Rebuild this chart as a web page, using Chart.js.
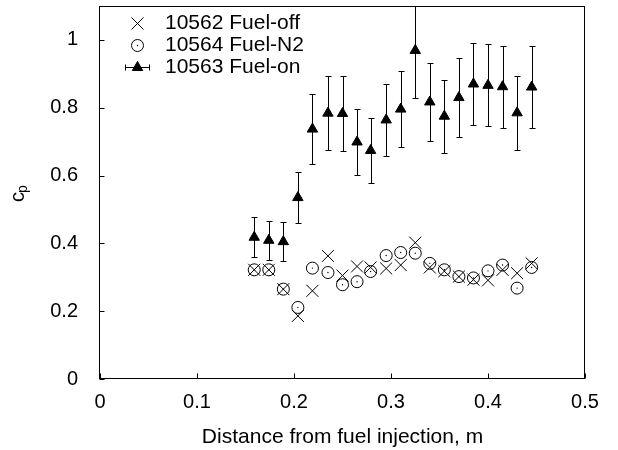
<!DOCTYPE html>
<html>
<head>
<meta charset="utf-8">
<script src="https://cdn.jsdelivr.net/npm/chart.js@4.4.1/dist/chart.umd.min.js"></script>
<style>
  html, body { margin: 0; padding: 0; background: #fff; }
</style>
</head>
<body>
<canvas id="cp" width="618" height="450"></canvas>
<script>
// measuring stations, distance from fuel injection (m)
const distance = [0.159, 0.174, 0.189, 0.204, 0.219, 0.235, 0.250, 0.265, 0.279, 0.295,
                  0.310, 0.325, 0.340, 0.355, 0.370, 0.385, 0.400, 0.415, 0.430, 0.445];

// pressure coefficient per run
const fuelOff = [0.322, 0.322, 0.265, 0.186, 0.260, 0.363, 0.305, 0.332, 0.329, 0.326,
                 0.336, 0.402, 0.329, 0.318, 0.302, 0.293, 0.291, 0.322, 0.312, 0.341];
const fuelN2  = [0.322, 0.322, 0.265, 0.211, 0.327, 0.314, 0.278, 0.287, 0.317, 0.364,
                 0.373, 0.371, 0.341, 0.322, 0.302, 0.298, 0.319, 0.336, 0.268, 0.329];
const fuelOn  = [0.418, 0.409, 0.405, 0.535, 0.737, 0.784, 0.783, 0.699, 0.674, 0.764,
                 0.796, 0.969, 0.817, 0.775, 0.830, 0.870, 0.866, 0.862, 0.785, 0.861];
const fuelOnErr = [0.059, 0.058, 0.057, 0.074, 0.103, 0.110, 0.110, 0.098, 0.095, 0.107,
                   0.111, 0.139, 0.114, 0.108, 0.117, 0.122, 0.121, 0.121, 0.110, 0.120];

const xTicks = [0, 0.1, 0.2, 0.3, 0.4, 0.5];
const yTicks = [0, 0.2, 0.4, 0.6, 0.8, 1];
const runNames = ['10562 Fuel-off', '10564 Fuel-N2', '10563 Fuel-on'];

const FONT = "'Liberation Sans', Arial, Helvetica, sans-serif";

const pts = ys => distance.map((d, i) => ({ x: d, y: ys[i] }));

const markers = [
  { pointStyle: 'crossRot', radius: 8.5, borderWidth: 1 },
  { pointStyle: 'circle', radius: 6, borderWidth: 1 },
  { pointStyle: 'triangle', radius: 6, borderWidth: 1 }
];

const errorBars = {
  id: 'errorBars',
  beforeDatasetsDraw(chart) {
    const { ctx, chartArea: a, scales: { x, y } } = chart;
    ctx.save();
    ctx.beginPath();
    ctx.rect(a.left, a.top, a.right - a.left, a.bottom - a.top);
    ctx.clip();
    ctx.strokeStyle = '#000';
    ctx.lineWidth = 1;
    ctx.beginPath();
    distance.forEach((d, i) => {
      const px = Math.round(x.getPixelForValue(d)) + 0.5;
      const hi = Math.round(y.getPixelForValue(fuelOn[i] + fuelOnErr[i])) + 0.5;
      const lo = Math.round(y.getPixelForValue(fuelOn[i] - fuelOnErr[i])) + 0.5;
      ctx.moveTo(px, hi); ctx.lineTo(px, lo);
      ctx.moveTo(px - 3, hi); ctx.lineTo(px + 3, hi);
      ctx.moveTo(px - 3, lo); ctx.lineTo(px + 3, lo);
    });
    ctx.stroke();
    ctx.restore();
  },
  afterDatasetsDraw(chart) {
    // centre dots of the N2 circles
    const ctx = chart.ctx;
    ctx.save();
    ctx.fillStyle = '#000';
    chart.getDatasetMeta(1).data.forEach(p => {
      ctx.beginPath();
      ctx.arc(p.x, p.y, 0.7, 0, Math.PI * 2);
      ctx.fill();
    });
    ctx.restore();
  }
};

const frame = {
  id: 'frame',
  afterDraw(chart) {
    const { ctx, chartArea: a, scales: { x, y } } = chart;
    ctx.save();
    ctx.strokeStyle = '#000';
    ctx.lineWidth = 1;
    const L = Math.round(a.left) - 0.5, R = Math.round(a.right) - 0.5;
    const T = Math.round(a.top) + 0.5, B = Math.round(a.bottom) - 0.5;
    ctx.strokeRect(L, T, R - L, B - T);

    // inward tick marks, bottom and left only
    ctx.beginPath();
    xTicks.forEach(v => {
      const px = Math.round(x.getPixelForValue(v)) + 0.5;
      ctx.moveTo(px, B); ctx.lineTo(px, B - 5);
    });
    yTicks.forEach(v => {
      const py = Math.round(y.getPixelForValue(v)) + 0.5;
      ctx.moveTo(L, py); ctx.lineTo(L + 5, py);
    });
    ctx.stroke();

    // y title: c with subscript p
    ctx.fillStyle = '#000';
    ctx.translate(23.5, 202);
    ctx.rotate(-Math.PI / 2);
    ctx.textBaseline = 'alphabetic';
    ctx.textAlign = 'left';
    ctx.font = '20px ' + FONT;
    ctx.fillText('c', 0, 0);
    const cw = ctx.measureText('c').width;
    ctx.font = '14px ' + FONT;
    ctx.fillText('p', cw - 1, 3.5);
    ctx.restore();

    // key, top left inside the frame
    ctx.save();
    ctx.strokeStyle = '#000';
    ctx.lineWidth = 1;
    const keyX = 137.5, textX = 165;
    runNames.forEach((name, i) => {
      const ky = 23.5 + i * 22;
      if (i === 2) {
        ctx.beginPath();
        ctx.moveTo(125, ky); ctx.lineTo(150, ky);
        ctx.moveTo(125.5, ky - 3); ctx.lineTo(125.5, ky + 3);
        ctx.moveTo(149.5, ky - 3); ctx.lineTo(149.5, ky + 3);
        ctx.stroke();
      }
      ctx.fillStyle = i === 1 ? 'rgba(0,0,0,0)' : '#000';
      Chart.helpers.drawPoint(ctx, markers[i], keyX, ky);
      ctx.fillStyle = '#000';
      if (i === 1) {
        ctx.beginPath();
        ctx.arc(keyX, ky, 0.7, 0, Math.PI * 2);
        ctx.fill();
      }
      ctx.font = '21px ' + FONT;
      ctx.textBaseline = 'middle';
      ctx.textAlign = 'left';
      ctx.fillText(name, textX, ky);
    });
    ctx.restore();
  }
};

new Chart(document.getElementById('cp'), {
  type: 'scatter',
  data: {
    datasets: [
      {
        label: runNames[0],
        data: pts(fuelOff),
        pointStyle: 'crossRot',
        pointRadius: 8.5,
        borderColor: '#000',
        borderWidth: 1
      },
      {
        label: runNames[1],
        data: pts(fuelN2),
        pointStyle: 'circle',
        pointRadius: 6,
        backgroundColor: 'rgba(0,0,0,0)',
        borderColor: '#000',
        borderWidth: 1
      },
      {
        label: runNames[2],
        data: pts(fuelOn),
        pointStyle: 'triangle',
        pointRadius: 6,
        backgroundColor: '#000',
        borderColor: '#000',
        borderWidth: 1
      }
    ]
  },
  options: {
    responsive: false,
    animation: false,
    events: [],
    layout: { autoPadding: false, padding: { left: 0, right: 33, top: 6, bottom: 0 } },
    plugins: {
      legend: { display: false },
      tooltip: { enabled: false }
    },
    scales: {
      x: {
        type: 'linear',
        min: 0,
        max: 0.5,
        afterBuildTicks: s => { s.ticks = xTicks.map(v => ({ value: v })); },
        afterFit: s => { s.height = 71; s.paddingLeft = 0; s.paddingRight = 0; },
        grid: { display: false },
        border: { display: false },
        ticks: {
          color: '#000',
          font: { family: FONT, size: 20 },
          padding: 3,
          maxRotation: 0,
          autoSkip: false,
          callback: v => String(v)
        },
        title: {
          display: true,
          text: 'Distance from fuel injection, m',
          color: '#000',
          font: { family: FONT, size: 21 },
          padding: 0
        }
      },
      y: {
        type: 'linear',
        min: 0,
        max: 1.1,
        afterBuildTicks: s => { s.ticks = yTicks.map(v => ({ value: v })); },
        afterFit: s => { s.width = 100; s.paddingTop = 0; s.paddingBottom = 0; },
        grid: { display: false },
        border: { display: false },
        ticks: {
          color: '#000',
          font: { family: FONT, size: 20, lineHeight: 0.5 },
          padding: 14,
          autoSkip: false,
          callback: v => String(v)
        }
      }
    }
  },
  plugins: [errorBars, frame]
});
</script>
</body>
</html>
